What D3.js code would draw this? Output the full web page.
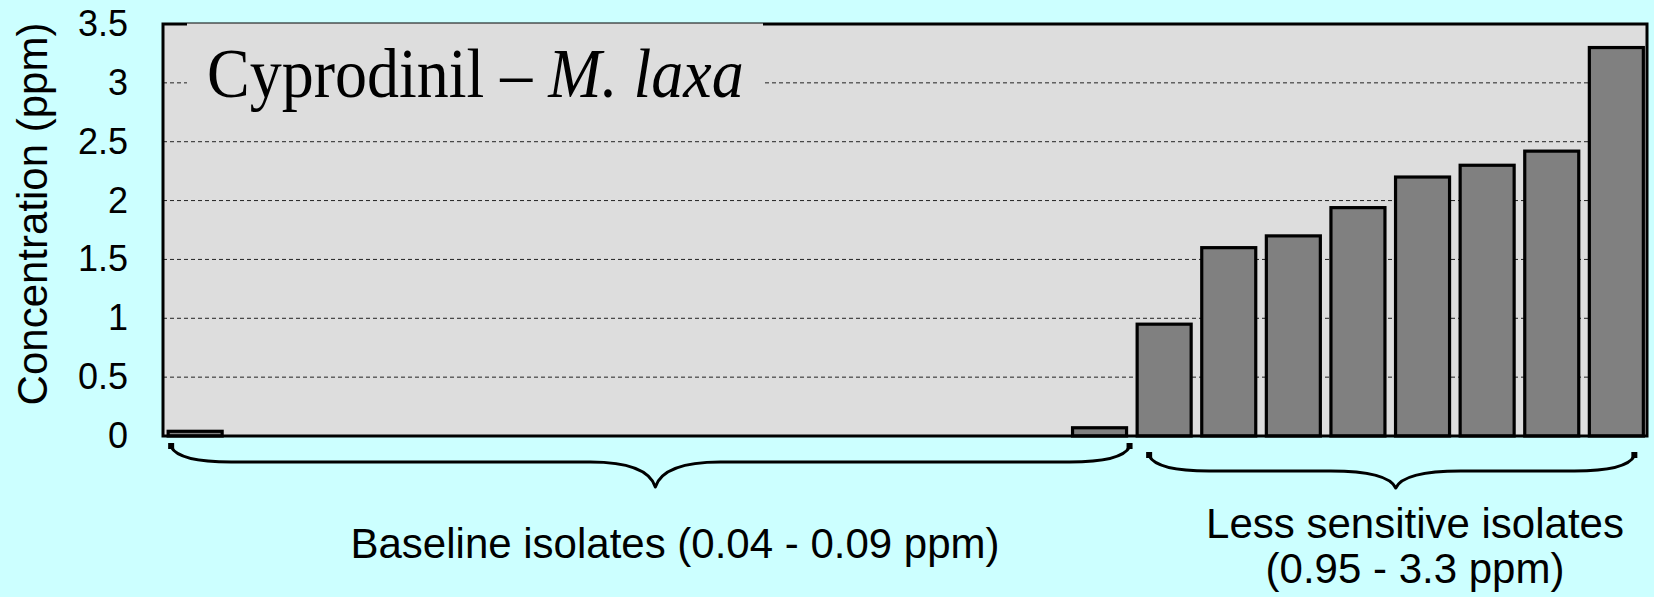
<!DOCTYPE html>
<html>
<head>
<meta charset="utf-8">
<script src="https://cdn.jsdelivr.net/npm/d3@7/dist/d3.min.js"></script>
<style>
  html, body { margin: 0; padding: 0; background: #CCFFFF; }
  svg { display: block; }
</style>
</head>
<body>
<svg id="chart" width="1654" height="597"></svg>
<script>
// ---- data ----
const categories = ["1","2","3","4","5","6","7","8","9","10","11","12","13","14","15","16","17","18","19","20","21","22","23"];
const values = [0.04, null, null, null, null, null, null, null, null, null, null, null, null, null, 0.07,
                0.95, 1.6, 1.7, 1.94, 2.2, 2.3, 2.42, 3.3];
const yTicks = [0, 0.5, 1, 1.5, 2, 2.5, 3, 3.5];
const yTickLabels = ["0", "0.5", "1", "1.5", "2", "2.5", "3", "3.5"];
const yLabel = "Concentration (ppm)";
const titleMain = "Cyprodinil \u2013 ";
const titleItalic = "M. laxa";
const groupLabels = [["Baseline isolates (0.04 - 0.09 ppm)"], ["Less sensitive isolates", "(0.95 - 3.3 ppm)"]];
const groupRanges = [[0, 14], [15, 22]];

// ---- layout ----
const plot = { left: 163, top: 24, right: 1647, bottom: 436 };
const svg = d3.select("#chart");
const sans = "'Liberation Sans', Arial, Helvetica, sans-serif";
const serif = "'Liberation Serif', 'Times New Roman', Times, serif";

const x = d3.scaleBand().domain(categories).range([163.5, 1648]).paddingInner(0.164).paddingOuter(0.072);
const y = d3.scaleLinear().domain([0, 3.5]).range([plot.bottom, plot.top]);

// background
svg.append("rect").attr("width", 1654).attr("height", 597).attr("fill", "#CCFFFF");

// plot area fill
svg.append("rect")
  .attr("x", plot.left).attr("y", plot.top)
  .attr("width", plot.right - plot.left).attr("height", plot.bottom - plot.top)
  .attr("fill", "#DDDDDD");

// gridlines
svg.append("g").selectAll("line")
  .data(yTicks.filter(t => t > 0 && t < 3.5))
  .join("line")
  .attr("x1", plot.left).attr("x2", plot.right)
  .attr("y1", d => y(d)).attr("y2", d => y(d))
  .attr("stroke", "#222").attr("stroke-width", 1).attr("stroke-dasharray", "4,3");

// bars
const data = categories.map((c, i) => ({ c, v: values[i] })).filter(d => d.v != null);
svg.append("g").selectAll("rect")
  .data(data)
  .join("rect")
  .attr("x", d => x(d.c))
  .attr("width", x.bandwidth())
  .attr("y", d => y(d.v))
  .attr("height", d => y(0) - y(d.v))
  .attr("fill", "#808080")
  .attr("stroke", "#000")
  .attr("stroke-width", 3.2);

// plot border
svg.append("rect")
  .attr("x", plot.left).attr("y", plot.top)
  .attr("width", plot.right - plot.left).attr("height", plot.bottom - plot.top)
  .attr("fill", "none").attr("stroke", "#000").attr("stroke-width", 3);

// y axis
const yAxis = d3.axisLeft(y).tickValues(yTicks)
  .tickFormat((d, i) => yTickLabels[i]).tickSize(0).tickPadding(35);
const ga = svg.append("g").attr("transform", `translate(${plot.left},0)`).call(yAxis);
ga.select(".domain").remove();
ga.selectAll("text").attr("font-family", sans).attr("font-size", 36).attr("fill", "#000");

// y label
svg.append("text")
  .attr("transform", `translate(47,${(plot.top + 404) / 2}) rotate(-90)`)
  .attr("text-anchor", "middle")
  .attr("font-family", sans).attr("font-size", 42).attr("fill", "#000")
  .text(yLabel);

// title box
svg.append("rect").attr("x", 187).attr("y", 23.5).attr("width", 576).attr("height", 96.5).attr("fill", "#DDDDDD");
const title = svg.append("text")
  .attr("transform", "translate(207,97) scale(1,1.08)")
  .attr("font-family", serif).attr("font-size", 64).attr("fill", "#000");
title.append("tspan").text(titleMain);
title.append("tspan").attr("font-style", "italic").text(titleItalic);

// braces
function bracePath(x0, x1, xm, ye, yl, yt) {
  return `M${x0},${ye} Q${x0 + 8},${yl} ${x0 + 60},${yl} L${xm - 65},${yl} ` +
         `Q${xm - 8},${yl} ${xm},${yt} Q${xm + 8},${yl} ${xm + 65},${yl} ` +
         `L${x1 - 60},${yl} Q${x1 - 8},${yl} ${x1},${ye}`;
}
const braceSpecs = [
  { x0: x(categories[groupRanges[0][0]]) + 3, x1: x(categories[groupRanges[0][1]]) + x.bandwidth() + 3, tip: 5, ye: 447, yl: 462, yt: 487 },
  { x0: x(categories[groupRanges[1][0]]) + 12, x1: x(categories[groupRanges[1][1]]) + x.bandwidth() - 9, tip: 4, ye: 456, yl: 471, yt: 488 }
];
const gb = svg.append("g");
braceSpecs.forEach(b => {
  const xm = (b.x0 + b.x1) / 2 + b.tip;
  gb.append("path").attr("d", bracePath(b.x0, b.x1, xm, b.ye, b.yl, b.yt))
    .attr("fill", "none").attr("stroke", "#000").attr("stroke-width", 3).attr("stroke-linejoin", "round");
  [b.x0, b.x1].forEach(xx => gb.append("rect").attr("x", xx - 3).attr("y", b.ye - 4).attr("width", 6).attr("height", 6).attr("fill", "#000"));
});

// group labels
const glPos = [{ cx: 675, y0: 558 }, { cx: 1415, y0: 538 }];
groupLabels.forEach((lines, gi) => {
  lines.forEach((t, li) => {
    svg.append("text")
      .attr("x", glPos[gi].cx).attr("y", glPos[gi].y0 + li * 45)
      .attr("text-anchor", "middle")
      .attr("font-family", sans).attr("font-size", 42).attr("fill", "#000")
      .text(t);
  });
});
</script>
</body>
</html>
